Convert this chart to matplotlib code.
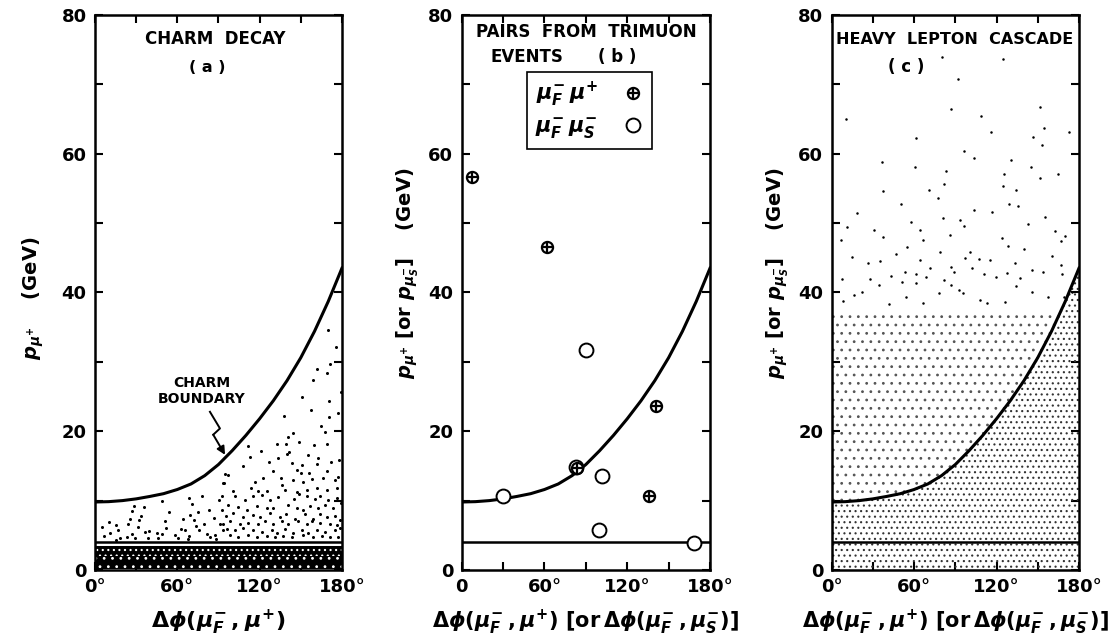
import matplotlib
matplotlib.use('Agg')
import matplotlib.pyplot as plt
from matplotlib.lines import Line2D
from matplotlib.legend_handler import HandlerTuple

plt.rcParams['font.family'] = 'DejaVu Sans'
plt.rcParams['font.weight'] = 'bold'
plt.rcParams['mathtext.fontset'] = 'dejavusans'
plt.rcParams['hatch.linewidth'] = 0.8

# ── Kinematic boundary (charm decay limit) and the 4 GeV momentum cut ─────
BOUND_PHI = [0, 10, 20, 30, 40, 50, 60, 70, 80, 90, 100, 110, 120,
             130, 140, 150, 160, 170, 180]
BOUND_P   = [9.8, 9.85, 10.0, 10.25, 10.6, 11.0, 11.6, 12.4, 13.6, 15.2,
             17.2, 19.4, 21.8, 24.4, 27.3, 30.6, 34.4, 38.7, 43.5]
P_CUT = 4.0

# ── (a) charm decay Monte Carlo, events above the cut ─────────────────────
A_PHI = [49.1, 68.7, 70.7, 78.2, 90.4, 93.8, 28.7, 35.5, 26.7, 54.2, 69.5, 74.8,
         83.3, 92.3, 33.5, 25.5, 31.8, 51.0, 64.1, 71.9, 86.5, 10.2, 5.3, 15.3,
         24.3, 31.6, 51.7, 62.7, 73.8, 79.2, 91.1, 10.9, 17.0, 6.8, 26.7, 36.4,
         39.6, 45.2, 49.1, 58.3, 65.3, 68.7, 76.0, 81.6, 87.4, 93.3, 15.1, 18.2,
         23.1, 29.1, 38.9, 45.7, 60.7, 68.0, 83.8, 87.9,
         170.0, 175.7, 171.5, 161.8, 169.3, 158.6, 179.0, 150.9, 170.8, 157.2,
         177.4, 138.0, 170.5,
         164.7, 167.6, 144.5, 140.9, 132.4, 139.0, 148.7, 159.6, 168.8, 111.8,
         121.0, 141.4, 139.7, 113.0, 133.6, 155.5, 162.8, 107.6, 127.1, 143.3,
         150.9, 162.0, 171.8, 177.8, 94.7, 97.2, 130.0, 147.0, 149.9, 156.2,
         169.1, 176.9, 93.5, 116.6, 122.7, 135.6, 144.1, 151.8, 157.9, 166.4,
         174.9, 100.3, 113.5, 119.0, 125.1, 136.0, 138.5, 147.5, 154.3, 161.6,
         168.8, 176.1, 92.3, 102.0, 109.3, 115.4, 121.5, 127.5, 133.6, 145.0,
         148.9, 154.8, 160.3, 164.0, 170.1, 176.1, 179.3, 97.2, 104.5, 110.5,
         117.8, 125.1, 130.0, 140.9, 147.0, 151.8, 156.7, 162.3, 167.6, 173.7,
         95.5, 100.8, 108.1, 114.9, 120.3, 127.5, 134.8, 139.2, 145.8, 153.3,
         159.1, 164.0, 168.8, 174.9, 178.6, 93.5, 98.4, 105.7, 111.8, 119.0,
         123.9, 130.0, 136.0, 140.9, 148.2, 154.3, 157.9, 164.0, 171.3, 176.1,
         96.0, 102.0, 108.1, 115.4, 121.5, 128.8, 132.4, 138.5, 144.5, 150.6,
         155.5, 161.6, 167.6, 174.9, 178.6, 98.4, 104.5, 111.8, 117.8, 125.1,
         131.2, 137.3, 143.3, 151.8, 159.1, 165.2, 171.3, 177.4]
A_P   = [9.9, 10.4, 9.5, 10.7, 10.1, 12.5, 9.2, 9.1, 8.5, 8.3, 7.9, 8.3,
         8.6, 8.6, 7.8, 7.4, 7.2, 7.1, 7.4, 7.2, 7.5, 6.9, 6.2, 6.5,
         6.6, 6.2, 6.0, 5.9, 6.4, 6.6, 6.6, 5.4, 5.8, 4.9, 5.2, 5.5,
         5.6, 5.4, 5.2, 5.0, 5.7, 4.9, 5.7, 5.2, 5.1, 5.7, 4.3, 4.6,
         4.7, 4.6, 4.6, 4.6, 4.6, 4.4, 4.7, 4.4,
         34.6, 32.1, 29.7, 28.9, 28.4, 27.4, 25.7, 24.9, 24.3, 23.1,
         22.6, 22.2, 22.1,
         20.7, 19.9, 19.7, 19.2, 18.2, 18.1, 18.4, 18.0, 18.2, 17.9,
         17.2, 17.0, 16.7, 16.3, 16.2, 16.6, 16.1, 15.0, 15.5, 15.4,
         15.2, 15.3, 15.5, 15.8, 13.8, 13.7, 14.2, 14.4, 14.0, 14.0,
         14.2, 13.4, 12.5, 12.7, 13.2, 13.3, 13.0, 12.7, 13.1, 13.3,
         13.0, 11.4, 11.8, 11.4, 11.4, 12.2, 11.6, 11.3, 11.5, 11.8,
         11.5, 11.8, 10.7, 10.6, 10.1, 10.7, 10.8, 10.1, 10.5, 10.3,
         11.0, 10.7, 10.2, 10.6, 10.1, 10.4, 9.7, 9.4, 9.1, 8.7,
         9.2, 9.0, 8.9, 9.4, 9.0, 8.6, 9.2, 9.0, 9.4, 8.9,
         7.8, 8.2, 7.7, 7.9, 7.7, 8.2, 7.7, 8.0, 7.4, 8.1,
         7.4, 8.0, 7.7, 7.8, 7.2, 6.7, 7.0, 6.6, 6.8, 6.7,
         7.1, 6.6, 7.0, 6.7, 7.1, 6.6, 7.0, 6.8, 6.7, 6.5,
         5.9, 5.7, 6.0, 5.7, 5.5, 5.8, 5.3, 5.9, 5.4, 5.8,
         5.4, 5.8, 5.5, 5.7, 6.0, 5.0, 4.8, 5.0, 4.8, 4.9,
         4.7, 4.9, 4.7, 5.0, 4.8, 4.9, 4.7, 4.8]

# ── (b) measured pairs from trimuon events ────────────────────────────────
OPP_PHI  = [7.2, 61.6, 140.9, 83.8, 136.0]        # mu_F^- mu^+
OPP_P    = [56.7, 46.6, 23.6, 14.65, 10.6]
SAME_PHI = [89.9, 101.5, 29.7, 99.6, 168.7, 82.5]  # mu_F^- mu_S^-
SAME_P   = [31.7, 13.6, 10.7, 5.8, 3.9, 14.9]

# ── (c) heavy lepton cascade Monte Carlo, sparse high-momentum tail ───────
C_PHI = [80.5, 124.9, 91.7, 10.4, 87.1, 108.4, 151.4, 61.4, 116.0, 154.3, 146.3,
         173.0, 153.3, 96.6, 103.3, 36.9, 130.8, 60.7, 83.0, 125.7, 145.1, 151.6,
         164.7, 82.0, 124.5, 37.4, 70.8, 133.9, 77.4, 50.7, 18.2, 103.3, 135.9,
         116.7, 128.8, 80.8, 155.3, 58.0, 93.2, 96.6, 143.1, 11.2, 31.1, 64.5,
         162.8, 6.8, 37.4, 85.9, 124.0, 169.6, 166.7, 54.8, 66.7, 128.3, 100.7,
         78.6, 140.0, 14.8, 26.2, 46.8, 35.4, 86.9, 64.3, 107.2, 97.3, 115.2,
         133.4, 160.4, 166.7, 53.4, 61.4, 71.8, 89.3, 102.4, 145.6, 7.3, 27.9,
         43.4, 34.2, 50.9, 61.1, 68.4, 81.5, 92.4, 110.6, 119.4, 127.4, 137.3,
         153.6, 167.9, 8.5, 16.5, 22.3, 42.0, 54.3, 66.7, 77.9, 87.1, 95.8,
         108.0, 113.1, 126.2, 134.4, 145.6, 157.2, 168.9, 175.0]
C_P   = [73.9, 73.7, 70.8, 65.0, 66.4, 65.4, 66.8, 62.3, 63.1, 63.7, 62.4,
         63.2, 61.2, 60.4, 59.4, 58.8, 59.1, 58.1, 57.5, 57.1, 58.1, 56.5,
         57.1, 55.7, 55.4, 54.6, 54.7, 54.8, 53.6, 52.8, 51.4, 51.9, 52.5,
         51.6, 52.8, 50.8, 50.9, 50.2, 50.5, 49.6, 49.9, 49.4, 49.0, 49.0,
         48.9, 47.6, 48.0, 48.3, 47.9, 48.2, 47.4, 46.6, 47.6, 46.7, 45.8,
         45.8, 46.2, 45.1, 44.2, 45.6, 44.6, 43.7, 44.7, 44.8, 44.9, 44.7,
         44.2, 45.2, 44.0, 43.0, 42.6, 43.6, 42.9, 43.5, 43.2, 42.0, 42.0,
         42.4, 41.1, 41.5, 41.3, 42.2, 41.8, 40.3, 42.6, 42.3, 42.8, 42.1,
         42.9, 42.6, 38.7, 39.6, 40.0, 38.3, 39.3, 38.5, 39.9, 41.1, 39.9,
         38.9, 38.5, 38.6, 41.0, 40.0, 39.4, 39.3, 40.1]
C_DENSE_TOP = 37.0   # below this the generated events merge into a stipple

X_TICKS = [0, 30, 60, 90, 120, 150, 180]
Y_TICKS = [0, 10, 20, 30, 40, 50, 60, 70, 80]


def setup(ax, zero_label='0°'):
    ax.set_xlim(0, 180)
    ax.set_ylim(0, 80)
    ax.set_xticks(X_TICKS)
    ax.set_xticklabels([zero_label, '', '60°', '', '120°', '', '180°'])
    ax.set_yticks(Y_TICKS)
    ax.set_yticklabels(['0', '', '20', '', '40', '', '60', '', '80'])
    ax.tick_params(direction='in', length=6, width=1.5, top=True, right=True,
                   labelsize=13, pad=6)
    for s in ax.spines.values():
        s.set_linewidth(1.8)
    for lab in ax.get_xticklabels() + ax.get_yticklabels():
        lab.set_fontweight('bold')


def boundary(ax):
    ax.plot(BOUND_PHI, BOUND_P, color='black', lw=2.2, zorder=4)
    ax.axhline(P_CUT, color='black', lw=1.8, zorder=4)


fig = plt.figure(figsize=(11.12, 6.4), dpi=100)
ax1 = fig.add_axes([0.0854, 0.1094, 0.2221, 0.8672])
ax2 = fig.add_axes([0.4152, 0.1094, 0.2233, 0.8672])
ax3 = fig.add_axes([0.7479, 0.1094, 0.2224, 0.8672])

XLAB_A = r'$\boldsymbol{\Delta\phi(\mu^{-}_{F}\,,\mu^{+})}$'
XLAB_BC = (r'$\boldsymbol{\Delta\phi(\mu^{-}_{F}\,,\mu^{+})}\ '
           r'\boldsymbol{[}\mathrm{or}\,\boldsymbol{\Delta\phi(\mu^{-}_{F}\,,\mu^{-}_{S})]}$')
YLAB_A = r'$\boldsymbol{p_{\mu^{+}}}$    (GeV)'
YLAB_BC = (r'$\boldsymbol{p_{\mu^{+}}\ [}\mathrm{or}\ '
           r'\boldsymbol{p_{\mu^{-}_{S}}]}$    (GeV)')

# ── Panel (a) ──────────────────────────────────────────────────────────────
setup(ax1)
boundary(ax1)
ax1.fill_between([0, 180], 0.2, 3.5, facecolor='black', edgecolor='white',
                 hatch='...', linewidth=0, zorder=2)
ax1.fill_between([0, 180], 0.2, 2.0, facecolor='black', edgecolor='white',
                 hatch='..', linewidth=0, zorder=2)
ax1.plot(A_PHI, A_P, 'o', color='black', ms=2.2, mew=0, zorder=3)
ax1.text(88, 76.5, 'CHARM  DECAY', ha='center', va='center', fontsize=12)
ax1.text(82, 72.5, '( a )', ha='center', va='center', fontsize=11.5)
ax1.text(78, 25.8, 'CHARM\nBOUNDARY', ha='center', va='center', fontsize=10,
         linespacing=1.1)
ax1.plot([83.8, 91.1, 86.2], [22.8, 20.4, 19.5], color='black', lw=1.4)
ax1.annotate('', xy=(94.8, 16.6), xytext=(86.2, 19.5),
             arrowprops=dict(arrowstyle='-|>', color='black', lw=1.4,
                             mutation_scale=12, shrinkA=0, shrinkB=0))
ax1.set_xlabel(XLAB_A, fontsize=16, labelpad=8)
ax1.set_ylabel(YLAB_A, fontsize=14, fontweight='bold')
ax1.yaxis.set_label_coords(-0.20, 0.49)

# ── Panel (b) ──────────────────────────────────────────────────────────────
setup(ax2, zero_label='0')
boundary(ax2)
ax2.plot(OPP_PHI, OPP_P, 'o', ms=8, mfc='none', mec='black', mew=1.6, zorder=5)
ax2.plot(OPP_PHI, OPP_P, '+', ms=8, mec='black', mew=1.6, zorder=5)
ax2.plot(SAME_PHI, SAME_P, 'o', ms=10, mfc='white', mec='black', mew=1.4, zorder=4)
h_opp = (Line2D([], [], ls='', marker='o', ms=8, mfc='none', mec='black', mew=1.6),
         Line2D([], [], ls='', marker='+', ms=8, mec='black', mew=1.6))
h_same = Line2D([], [], ls='', marker='o', ms=10, mfc='none', mec='black', mew=1.4)
leg = ax2.legend([h_opp, h_same],
                 [r'$\boldsymbol{\mu^{-}_{F}\,\mu^{+}}$',
                  r'$\boldsymbol{\mu^{-}_{F}\,\mu^{-}_{S}}$'],
                 handler_map={tuple: HandlerTuple(ndivide=1)},
                 loc='upper center', bbox_to_anchor=(0.515, 0.898),
                 borderaxespad=0, markerfirst=False, fancybox=False,
                 framealpha=1, edgecolor='black', fontsize=15,
                 handlelength=1.0, handletextpad=1.2, borderpad=0.4,
                 labelspacing=0.35)
leg.get_frame().set_linewidth(1.2)
ax2.text(90, 77.6, 'PAIRS  FROM  TRIMUON', ha='center', va='center', fontsize=12)
ax2.text(21, 73.9, 'EVENTS', ha='left', va='center', fontsize=12)
ax2.text(113, 73.9, '( b )', ha='center', va='center', fontsize=12)
ax2.set_xlabel(XLAB_BC, fontsize=15, labelpad=8)
ax2.set_ylabel(YLAB_BC, fontsize=14, fontweight='bold')
ax2.yaxis.set_label_coords(-0.165, 0.535)

# ── Panel (c) ──────────────────────────────────────────────────────────────
setup(ax3)
boundary(ax3)
above = [min(p, C_DENSE_TOP) for p in BOUND_P]
ax3.fill_between(BOUND_PHI, above, C_DENSE_TOP, facecolor='none',
                 edgecolor='#555555', hatch='..', linewidth=0, zorder=2)
ax3.fill_between(BOUND_PHI, P_CUT, BOUND_P, facecolor='none',
                 edgecolor='#333333', hatch='...', linewidth=0, zorder=2)
ax3.fill_between([0, 180], 0, P_CUT, facecolor='none',
                 edgecolor='#333333', hatch='...', linewidth=0, zorder=2)
ax3.plot(C_PHI, C_P, 'o', color='black', ms=1.8, mew=0, zorder=3)
ax3.text(89.5, 76.4, 'HEAVY  LEPTON  CASCADE', ha='center', va='center',
         fontsize=11.5)
ax3.text(54.6, 72.5, '( c )', ha='center', va='center', fontsize=12)
ax3.set_xlabel(XLAB_BC, fontsize=15, labelpad=8)
ax3.set_ylabel(YLAB_BC, fontsize=14, fontweight='bold')
ax3.yaxis.set_label_coords(-0.165, 0.535)

fig.savefig('out.png', dpi=100)
